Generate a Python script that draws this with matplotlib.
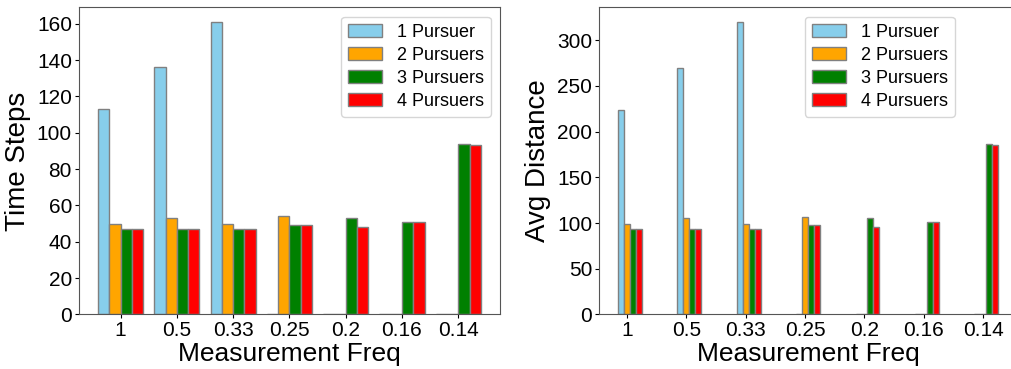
import numpy as np
import matplotlib
matplotlib.use('Agg')
import matplotlib.pyplot as plt
from matplotlib.ticker import MultipleLocator

plt.rcParams['font.family'] = ['Liberation Sans', 'DejaVu Sans']

# data
freqs = ['1', '0.5', '0.33', '0.25', '0.2', '0.16', '0.14']
labels = ['1 Pursuer', '2 Pursuers', '3 Pursuers', '4 Pursuers']
colors = ['skyblue', 'orange', 'green', 'red']

steps_1 = [113, 136, 161, 0, 0, 0, 0]
steps_2 = [50, 53, 50, 54, 0, 0, 0]
steps_3 = [47, 47, 47, 49, 53, 51, 94]
steps_4 = [47, 47, 47, 49, 48, 51, 93]

dist_1 = [224, 270, 320, 0, 0, 0, 0]
dist_2 = [99, 105, 99, 107, 0, 0, 0]
dist_3 = [93.5, 93.5, 93.5, 97.5, 105.5, 101.5, 187]
dist_4 = [93.5, 93.5, 93.5, 97.5, 95.5, 101.5, 185]

x = np.arange(len(freqs))

fig = plt.figure(figsize=(10.12, 3.69), dpi=100)
ax1 = fig.add_axes([0.078, 0.148, 0.416, 0.832])
ax2 = fig.add_axes([0.592, 0.148, 0.413, 0.832])

leg_kw = dict(fontsize=13, labelspacing=0.33, handlelength=1.9,
              borderaxespad=0)

# left: time steps
w = 0.2
for i, vals in enumerate([steps_1, steps_2, steps_3, steps_4]):
    ax1.bar(x + (i - 1.5) * w, vals, w, color=colors[i], edgecolor='gray',
            linewidth=1, label=labels[i])
ax1.set_xticks(x)
ax1.set_xticklabels(freqs)
ax1.yaxis.set_major_locator(MultipleLocator(20))
ax1.set_xlabel('Measurement Freq', fontsize=19, labelpad=1)
ax1.set_ylabel('Time Steps', fontsize=20, labelpad=4)
ax1.legend(loc='upper right', bbox_to_anchor=(0.979, 0.97), **leg_kw)

# right: avg distance
w = 0.1
for i, vals in enumerate([dist_1, dist_2, dist_3, dist_4]):
    ax2.bar(x + (i - 1) * w, vals, w, color=colors[i], edgecolor='gray',
            linewidth=1, label=labels[i])
ax2.set_xticks(x)
ax2.set_xticklabels(freqs)
ax2.set_xlabel('Measurement Freq', fontsize=19, labelpad=1)
ax2.set_ylabel('Avg Distance', fontsize=20, labelpad=4)
ax2.legend(loc='upper left', bbox_to_anchor=(0.492, 0.97), **leg_kw)

for ax in (ax1, ax2):
    ax.tick_params(labelsize=15, length=3, pad=2)
    for s in ax.spines.values():
        s.set_color('#555555')

plt.savefig('out.png', dpi=100)
